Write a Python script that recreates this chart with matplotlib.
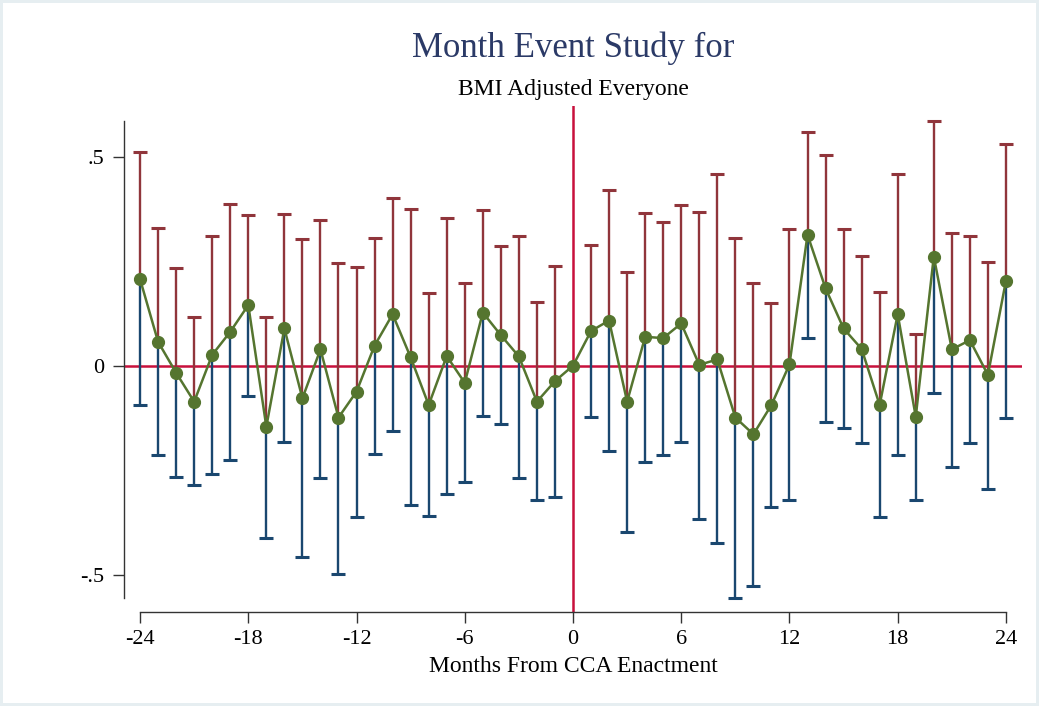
#!/usr/bin/env python3
# -*- coding: utf-8 -*-

import numpy as np
import matplotlib
matplotlib.use("Agg")
import matplotlib.pyplot as plt

# ====== DATA ======
months = list(range(-24, 25))

estimate = [
    0.207, 0.057, -0.017, -0.086, 0.026, 0.081, 0.145, -0.146, 0.089, -0.078,
    0.039, -0.124, -0.062, 0.048, 0.123, 0.020, -0.094, 0.023, -0.041, 0.127,
    0.073, 0.022, -0.086, -0.037, 0.000, 0.083, 0.108, -0.086, 0.069, 0.066,
    0.101, 0.002, 0.015, -0.124, -0.164, -0.094, 0.003, 0.313, 0.185, 0.089,
    0.040, -0.094, 0.123, -0.122, 0.261, 0.039, 0.061, -0.022, 0.203,
]

upper_ci = [
    0.511, 0.329, 0.233, 0.116, 0.310, 0.387, 0.360, 0.117, 0.362, 0.302,
    0.349, 0.245, 0.237, 0.305, 0.400, 0.375, 0.173, 0.354, 0.197, 0.372,
    0.287, 0.310, 0.152, 0.239, np.nan, 0.289, 0.419, 0.225, 0.366, 0.343,
    0.384, 0.368, 0.458, 0.305, 0.197, 0.149, 0.327, 0.560, 0.504, 0.326,
    0.262, 0.176, 0.459, 0.075, 0.584, 0.317, 0.309, 0.247, 0.530,
]

lower_ci = [
    -0.094, -0.214, -0.267, -0.285, -0.259, -0.226, -0.072, -0.411, -0.183, -0.457,
    -0.269, -0.498, -0.361, -0.210, -0.155, -0.333, -0.359, -0.308, -0.278, -0.120,
    -0.140, -0.268, -0.321, -0.315, np.nan, -0.122, -0.203, -0.398, -0.230, -0.214,
    -0.182, -0.367, -0.425, -0.555, -0.527, -0.337, -0.321, 0.067, -0.135, -0.148,
    -0.184, -0.363, -0.214, -0.320, -0.066, -0.242, -0.186, -0.295, -0.124,
]

x_ticks = [-24, -18, -12, -6, 0, 6, 12, 18, 24]
y_ticks = [-0.5, 0, 0.5]
y_tick_labels = ["-.5", "0", ".5"]

# ====== BARVY (Stata s2color) ======
MAROON = "#90353b"
NAVY = "#1a476f"
GREEN = "#55752f"
RED = "#c8103c"
TITLE = "#2b3a67"

plt.rcParams["font.family"] = ["Liberation Serif", "DejaVu Serif"]


def main():
    x = np.array(months, dtype=float)
    est = np.array(estimate)
    up = np.array(upper_ci)
    lo = np.array(lower_ci)

    fig = plt.figure(figsize=(10.39, 7.06), dpi=100)
    fig.patch.set_facecolor("white")
    fig.patch.set_edgecolor("#e6eef1")
    fig.patch.set_linewidth(3)

    ax = fig.add_axes([124 / 1039, 94 / 706, 898 / 1039, 506 / 706])

    # referenční čáry
    ax.axhline(0, color=RED, linewidth=1.8, zorder=1)
    ax.axvline(0, color=RED, linewidth=1.8, zorder=1)

    # intervaly spolehlivosti
    ax.vlines(x, lo, est, color=NAVY, linewidth=1.7, zorder=2)
    ax.vlines(x, est, up, color=MAROON, linewidth=1.7, zorder=2)
    ax.plot(x, lo, linestyle="none", marker="_", markersize=9.5,
            markeredgewidth=2.2, color=NAVY, zorder=2)
    ax.plot(x, up, linestyle="none", marker="_", markersize=9.5,
            markeredgewidth=2.2, color=MAROON, zorder=2)

    # bodové odhady
    ax.plot(x, est, color=GREEN, linewidth=1.8, marker="o", markersize=8.5,
            markerfacecolor=GREEN, markeredgecolor=GREEN, zorder=3)

    ax.set_xlim(-24.89, 24.89)
    ax.set_ylim(-0.589, 0.621)

    ax.spines["top"].set_visible(False)
    ax.spines["right"].set_visible(False)
    ax.spines["left"].set_bounds(np.nanmin(lo), np.nanmax(up))
    ax.spines["bottom"].set_bounds(-24, 24)
    for s in ("left", "bottom"):
        ax.spines[s].set_color("#333333")
        ax.spines[s].set_linewidth(1.0)

    ax.set_xticks(x_ticks)
    ax.set_xticklabels([str(t) for t in x_ticks])
    ax.set_yticks(y_ticks)
    ax.set_yticklabels(y_tick_labels)
    ax.tick_params(axis="both", direction="out", length=8, width=1,
                   color="#333333", labelsize=16, labelcolor="black")
    ax.tick_params(axis="x", pad=5)
    ax.tick_params(axis="y", pad=6)

    ax.set_xlabel("Months From CCA Enactment", fontsize=17, labelpad=5)

    cx = (124 + 1022) / 2 / 1039
    fig.text(cx, 1 - 48 / 706, "Month Event Study for", ha="center",
             va="center", fontsize=25, color=TITLE)
    fig.text(cx, 1 - 89 / 706, "BMI Adjusted Everyone", ha="center",
             va="center", fontsize=17, color="black")

    fig.savefig("out.png", dpi=100)
    plt.close(fig)


if __name__ == "__main__":
    main()
